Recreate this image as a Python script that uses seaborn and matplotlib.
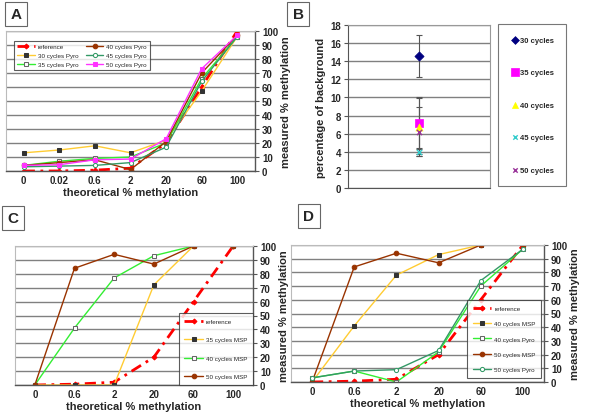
import numpy as np
import matplotlib
matplotlib.use('Agg')
import matplotlib.pyplot as plt
import seaborn as sns

# panel A - pyrosequencing, 30-50 cycles
a_labels = ['0', '0.02', '0.6', '2', '20', '60', '100']
a_reference = [0, 0.02, 0.6, 2, 20, 60, 100]
a_pyro30 = [13, 15, 18, 13, 22, 57, 96]
a_pyro35 = [4, 7, 9, 10, 20, 66, 96]
a_pyro40 = [4, 6, 8, 1, 21, 70, 97]
a_pyro45 = [3, 3.5, 4, 6, 17, 64, 96]
a_pyro50 = [4, 4.5, 8, 8.5, 23, 73, 97]

# panel B - background
b_labels = ['30 cycles', '35 cycles', '40 cycles', '45 cycles', '50 cycles']
b_means = [14.6, 7.2, 6.7, 4.0, 6.2]
b_errs = [2.3, 2.8, 3.2, 0.3, 2.7]

# panel C - MSP
c_labels = ['0', '0.6', '2', '20', '60', '100']
c_reference = [0, 0.6, 2, 20, 60, 100]
c_msp35 = [0, 0, 0, 72, 100, 100]
c_msp40 = [0, 41, 77, 93, 100, 100]
c_msp50 = [0, 84, 94, 87, 100, 100]

# panel D - MSP vs Pyro
d_labels = ['0', '0.6', '2', '20', '60', '100']
d_reference = [0, 0.6, 2, 20, 60, 100]
d_msp40 = [0, 41, 78, 93, 100, 100]
d_pyro40 = [3, 8, 0, 22, 70, 97]
d_msp50 = [0, 84, 94, 87, 100, 100]
d_pyro50 = [3, 8, 9, 23, 74, 97]

sns.set_style('white')
plt.rcParams['font.family'] = ['Liberation Sans', 'DejaVu Sans']

RED = '#ff0000'
YELLOW = '#ffcc33'
GREEN = '#33ee33'
BROWN = '#993300'
TEAL = '#339966'
MAGENTA = '#ff33ff'
GRID = '#808080'

styles = {
    'reference': dict(color=RED, lw=2.0, linestyle=(0, (4, 2, 1, 2)), marker='D',
                      markersize=2.5, markerfacecolor=RED, markeredgecolor=RED),
    'black_sq': dict(color=YELLOW, lw=1, marker='s', markersize=3.3,
                     markerfacecolor='#333333', markeredgecolor='#333333'),
    'open_sq_green': dict(color=GREEN, lw=1, marker='s', markersize=3,
                          markerfacecolor='white', markeredgecolor='#666666'),
    'brown': dict(color=BROWN, lw=1, marker='o', markersize=3.3,
                  markerfacecolor=BROWN, markeredgecolor=BROWN),
    'teal': dict(color=TEAL, lw=1, marker='o', markersize=3,
                 markerfacecolor='white', markeredgecolor=TEAL),
    'magenta': dict(color=MAGENTA, lw=1, marker='s', markersize=3,
                    markerfacecolor=MAGENTA, markeredgecolor=MAGENTA),
}


def draw_line(ax, values, label, style):
    x = np.arange(len(values))
    sns.lineplot(x=x, y=values, ax=ax, label=label, sort=False, **styles[style])


def style_lines_axes(ax, labels):
    n = len(labels)
    ax.set_xlim(-0.5, n - 0.5)
    ax.set_ylim(0, 100)
    ax.set_xticks(np.arange(n))
    ax.set_xticklabels(labels, fontsize=7, fontweight='bold')
    ax.set_xticks(np.arange(n + 1) - 0.5, minor=True)
    ax.tick_params(axis='x', which='major', length=0, pad=3)
    ax.tick_params(axis='x', which='minor', length=3, color='#555555', direction='out')
    ax.set_yticks(np.arange(0, 101, 10))
    ax.yaxis.tick_right()
    ax.yaxis.set_label_position('right')
    ax.tick_params(axis='y', labelsize=7, length=3, color='#555555', direction='out', pad=2, right=True)
    for t in ax.get_yticklabels():
        t.set_fontweight('bold')
    ax.yaxis.grid(True, color=GRID, lw=1)
    ax.set_axisbelow(True)
    for s in ['top', 'left']:
        ax.spines[s].set_color('#bbbbbb')
        ax.spines[s].set_linewidth(0.8)
    for s in ['bottom', 'right']:
        ax.spines[s].set_color('#555555')
        ax.spines[s].set_linewidth(1)
    ax.set_xlabel('theoretical % methylation', fontsize=8, fontweight='bold', labelpad=1)
    ax.set_ylabel('measured % methylation', fontsize=8, fontweight='bold', labelpad=2)


def small_legend(ax, **kw):
    leg = ax.legend(fontsize=4.5, frameon=True, fancybox=False, edgecolor='#333333',
                    borderaxespad=0, **kw)
    leg.get_frame().set_linewidth(0.8)
    return leg


def panel_letter(fig, x, y, s):
    fig.text(x, y, s, fontsize=11, fontweight='bold', ha='center', va='center',
             bbox=dict(boxstyle='square,pad=0.35', fc='white', ec='#666666', lw=0.8))


fig = plt.figure(figsize=(6, 4.14), dpi=100)

# ---- A
axA = fig.add_axes([6 / 600, 1 - 172 / 414, 249 / 600, 140 / 414])
draw_line(axA, a_reference, 'reference', 'reference')
draw_line(axA, a_pyro30, '30 cycles Pyro', 'black_sq')
draw_line(axA, a_pyro35, '35 cycles Pyro', 'open_sq_green')
draw_line(axA, a_pyro40, '40 cycles Pyro', 'brown')
draw_line(axA, a_pyro45, '45 cycles Pyro', 'teal')
draw_line(axA, a_pyro50, '50 cycles Pyro', 'magenta')
style_lines_axes(axA, a_labels)
small_legend(axA, loc='upper left', bbox_to_anchor=(0.032, 0.93), ncol=2,
             handlelength=2.8, columnspacing=1.2, labelspacing=0.55, borderpad=0.5,
             handletextpad=0.5)

# ---- B
axB = fig.add_axes([348 / 600, 1 - 189 / 414, 142 / 600, 163 / 414])
b_markers = ['D', 's', '^', 'x', 'x']
b_colors = ['#000080', '#ff00ff', '#ffff00', '#33cccc', '#993399']
b_sizes = [22, 38, 26, 14, 14]
for i in range(len(b_labels)):
    axB.errorbar([0], [b_means[i]], yerr=[b_errs[i]], fmt='none', ecolor='#555555',
                 elinewidth=0.8, capsize=2.5, capthick=0.8)
for i in range(len(b_labels)):
    sns.scatterplot(x=[0], y=[b_means[i]], ax=axB, marker=b_markers[i], color=b_colors[i],
                    s=b_sizes[i], edgecolor=b_colors[i] if b_markers[i] != 'x' else None,
                    linewidth=1.0 if b_markers[i] == 'x' else 0.5, label=b_labels[i], zorder=3)
axB.set_xlim(-0.5, 0.5)
axB.set_ylim(0, 18)
axB.set_yticks(np.arange(0, 19, 2))
axB.set_xticks([])
axB.tick_params(axis='y', labelsize=7, length=3, left=True, color='#555555', pad=2)
for t in axB.get_yticklabels():
    t.set_fontweight('bold')
axB.yaxis.grid(True, color=GRID, lw=1)
axB.set_axisbelow(True)
for s in axB.spines.values():
    s.set_color('#999999')
    s.set_linewidth(0.8)
axB.spines['left'].set_color('#555555')
axB.spines['bottom'].set_color('#555555')
axB.set_ylabel('percentage of background', fontsize=8, fontweight='bold', labelpad=3)
legB = axB.legend(loc='upper left', bbox_to_anchor=(498 / 600, 1 - 25 / 414),
                  bbox_transform=fig.transFigure, fontsize=5.5, frameon=True, fancybox=False,
                  edgecolor='#555555', labelspacing=3.3, borderpad=1.6, handletextpad=0.1,
                  handlelength=1.2, borderaxespad=0, markerscale=0.85)
legB.get_frame().set_linewidth(0.8)
for t in legB.get_texts():
    t.set_fontweight('bold')

# ---- C
axC = fig.add_axes([15 / 600, 1 - 386 / 414, 238 / 600, 139 / 414])
draw_line(axC, c_reference, 'reference', 'reference')
draw_line(axC, c_msp35, '35 cycles MSP', 'black_sq')
draw_line(axC, c_msp40, '40 cycles MSP', 'open_sq_green')
draw_line(axC, c_msp50, '50 cycles MSP', 'brown')
style_lines_axes(axC, c_labels)
small_legend(axC, loc='lower right', bbox_to_anchor=(1.0, 0.0), handlelength=3,
             labelspacing=2.1, borderpad=0.9, handletextpad=0.5)

# ---- D
axD = fig.add_axes([291 / 600, 1 - 383 / 414, 253 / 600, 137 / 414])
draw_line(axD, d_reference, 'reference', 'reference')
draw_line(axD, d_msp40, '40 cycles MSP', 'black_sq')
draw_line(axD, d_pyro40, '40 cycles Pyro', 'open_sq_green')
draw_line(axD, d_msp50, '50 cycles MSP', 'brown')
draw_line(axD, d_pyro50, '50 cycles Pyro', 'teal')
style_lines_axes(axD, d_labels)
small_legend(axD, loc='lower right', bbox_to_anchor=(0.99, 0.03), handlelength=3,
             labelspacing=1.6, borderpad=0.9, handletextpad=0.5)

panel_letter(fig, 16 / 600, 1 - 15 / 414, 'A')
panel_letter(fig, 298 / 600, 1 - 15 / 414, 'B')
panel_letter(fig, 13 / 600, 1 - 219 / 414, 'C')
panel_letter(fig, 309 / 600, 1 - 217 / 414, 'D')

fig.savefig('out.png', dpi=100)
